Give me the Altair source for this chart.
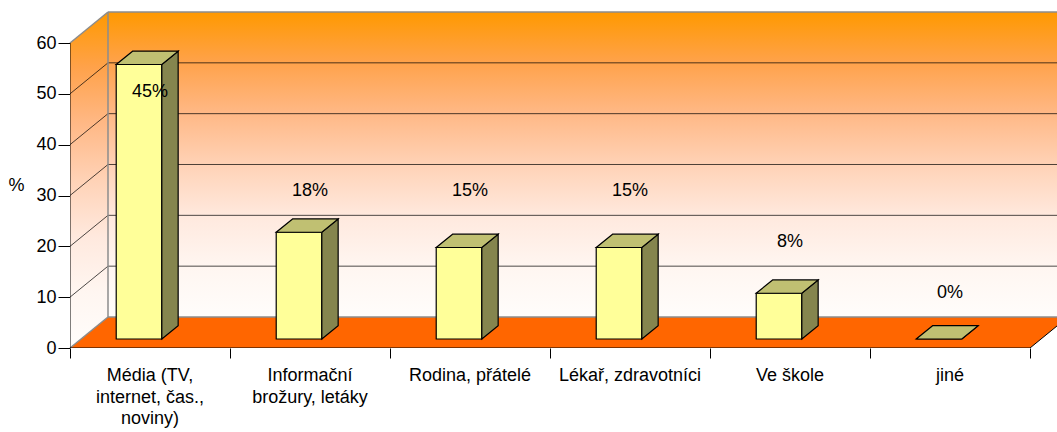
import altair as alt
import pandas as pd

# ---- data -------------------------------------------------------------
categories = [
    "Média (TV,\ninternet, čas.,\nnoviny)",
    "Informační\nbrožury, letáky",
    "Rodina, přátelé",
    "Lékař, zdravotníci",
    "Ve škole",
    "jiné",
]
counts = [54, 21, 18, 18, 9, 0]
y_ticks = [0, 10, 20, 30, 40, 50, 60]
y_title = "%"

# ---- geometry of the pseudo-3D box (category widths / value units) ----
PLOT_W, PLOT_H = 987, 336
CAT_PX = 160                     # pixel width of one category on the front plane
X_END = PLOT_W / CAT_PX          # visible end of the x range
Y_MAX = 60
DEPTH_X = 38 / CAT_PX            # receding offset of the back plane, x
DEPTH_Y = 6.1                    # receding offset of the back plane, y
BAR_L, BAR_R = 0.22, 0.505       # bar footprint inside a category
BAR_FRONT, BAR_BACK = 0.29, 0.72 # bar depth (fraction of the box depth)
GRID_STEP = y_ticks[1] - y_ticks[0]
N = len(categories)

FONT = "Liberation Sans"
FS = 18

xs = alt.Scale(domain=[0, X_END], nice=False, zero=False)
ys = alt.Scale(domain=[0, Y_MAX + DEPTH_Y], nice=False, zero=False)
x_axis = alt.Axis(values=list(range(N + 1)), labels=False, tickSize=10,
                  tickColor="black", tickWidth=1, domain=False, grid=False,
                  title=None)
y_axis = alt.Axis(values=y_ticks, tickSize=12, tickColor="black", tickWidth=1,
                  labelFontSize=FS, labelFont=FONT, labelColor="black",
                  labelPadding=2, domain=False, grid=False,
                  title=y_title, titleAngle=0, titleFont=FONT,
                  titleFontSize=FS, titleFontWeight="normal",
                  titleColor="black", titleX=-54, titleY=173,
                  titleAlign="center", titleBaseline="middle")


def X(f="x"):
    return alt.X(f"{f}:Q", scale=xs, axis=x_axis)


def Y(f="y"):
    return alt.Y(f"{f}:Q", scale=ys, axis=y_axis)


wall_fill = alt.Gradient(
    gradient="linear", x1=0, x2=0, y1=0, y2=1,
    stops=[
        alt.GradientStop(color="#FF9900", offset=0),
        alt.GradientStop(color="#FFA24A", offset=0.164),
        alt.GradientStop(color="#FFB885", offset=0.33),
        alt.GradientStop(color="#FFD2B6", offset=0.5),
        alt.GradientStop(color="#FFE9DE", offset=0.67),
        alt.GradientStop(color="#FFF6F1", offset=0.836),
        alt.GradientStop(color="#FFFDFB", offset=1),
    ],
)

# ---- walls and floor --------------------------------------------------
back_wall = alt.Chart(pd.DataFrame(
    {"x": [DEPTH_X], "x2": [X_END], "y": [DEPTH_Y], "y2": [Y_MAX + DEPTH_Y]}
)).mark_rect(fill=wall_fill).encode(x=X(), x2="x2:Q", y=Y(), y2="y2:Q")

left_wall = alt.Chart(pd.DataFrame(
    {"x": [0, DEPTH_X], "y": [0, DEPTH_Y], "y2": [Y_MAX, Y_MAX + DEPTH_Y]}
)).mark_area(orient="vertical", fill=wall_fill).encode(x=X(), y=Y(), y2="y2:Q")

floor = alt.Chart(pd.DataFrame(
    {"y": [0, DEPTH_Y], "x": [0, DEPTH_X], "x2": [N, N + DEPTH_X]}
)).mark_area(orient="horizontal", fill="#FF6600", clip=True).encode(
    y=Y(), x=X(), x2="x2:Q")

# gridlines on back wall and on the left wall
grid_vals = [v for v in y_ticks if 0 < v < Y_MAX]
grid_rows = []
for v in grid_vals:
    grid_rows.append({"x": DEPTH_X, "x2": X_END, "y": v + DEPTH_Y, "y2": v + DEPTH_Y})
    grid_rows.append({"x": 0, "x2": DEPTH_X, "y": v, "y2": v + DEPTH_Y})
grid = alt.Chart(pd.DataFrame(grid_rows)).mark_rule(
    color="black", strokeWidth=1, opacity=0.7
).encode(x=X(), x2="x2:Q", y=Y(), y2="y2:Q")

# light grey box edges
edge_rows = [
    {"x": 0, "x2": DEPTH_X, "y": Y_MAX, "y2": Y_MAX + DEPTH_Y},
    {"x": 0, "x2": DEPTH_X, "y": 0, "y2": DEPTH_Y},
    {"x": DEPTH_X, "x2": DEPTH_X, "y": DEPTH_Y, "y2": Y_MAX + DEPTH_Y},
    {"x": DEPTH_X, "x2": X_END, "y": Y_MAX + DEPTH_Y, "y2": Y_MAX + DEPTH_Y},
    {"x": DEPTH_X, "x2": X_END, "y": DEPTH_Y, "y2": DEPTH_Y},
]
edges = alt.Chart(pd.DataFrame(edge_rows)).mark_rule(
    color="#8C8C8C", strokeWidth=1.5
).encode(x=X(), x2="x2:Q", y=Y(), y2="y2:Q")

# black axis lines: value axis, floor front and floor right edge
axis_rows = [
    {"x": 0, "x2": 0, "y": 0, "y2": Y_MAX},
    {"x": 0, "x2": N, "y": 0, "y2": 0},
    {"x": N, "x2": N + DEPTH_X, "y": 0, "y2": DEPTH_Y},
]
axis_lines = alt.Chart(pd.DataFrame(axis_rows)).mark_rule(
    color="black", strokeWidth=1, clip=True
).encode(x=X(), x2="x2:Q", y=Y(), y2="y2:Q")

# ---- bars -------------------------------------------------------------
total = sum(counts)
front_rows, side_rows, top_rows, label_rows, cat_rows = [], [], [], [], []
for i, (cat, v) in enumerate(zip(categories, counts)):
    xl, xr = i + BAR_L, i + BAR_R
    f_dx, f_dy = BAR_FRONT * DEPTH_X, BAR_FRONT * DEPTH_Y
    b_dx, b_dy = BAR_BACK * DEPTH_X, BAR_BACK * DEPTH_Y
    front_rows.append({"bar": i, "x": xl + f_dx, "x2": xr + f_dx,
                       "y": f_dy, "y2": v + f_dy})
    side_rows += [
        {"bar": i, "x": xr + f_dx, "y": f_dy, "y2": v + f_dy},
        {"bar": i, "x": xr + b_dx, "y": b_dy, "y2": v + b_dy},
    ]
    top_rows += [
        {"bar": i, "y": v + f_dy, "x": xl + f_dx, "x2": xr + f_dx},
        {"bar": i, "y": v + b_dy, "x": xl + b_dx, "x2": xr + b_dx},
    ]
    pct = int(v / total * 100 + 0.5)
    # share label sits just above the gridline nearest the bar top,
    # or inside the bar when there is no room above it
    ly = round(v / GRID_STEP) * GRID_STEP + GRID_STEP + 0.8
    if ly > Y_MAX:
        ly = v - 3.6
    label_rows.append({"x": i + 0.5, "y": ly, "text": f"{pct}%"})
    cat_rows.append({"x": i + 0.5, "y": 0, "text": cat})

bar_stroke = dict(stroke="black", strokeWidth=1.2, strokeJoin="miter")

front = alt.Chart(pd.DataFrame(front_rows)).mark_rect(
    fill="#FFFF99", **bar_stroke
).encode(x=X(), x2="x2:Q", y=Y(), y2="y2:Q")

side = alt.Chart(pd.DataFrame(side_rows)).mark_area(
    orient="vertical", fill="#85854E", **bar_stroke
).encode(x=X(), y=Y(), y2="y2:Q", detail="bar:N")

top = alt.Chart(pd.DataFrame(top_rows)).mark_area(
    orient="horizontal", fill="#C0C072", **bar_stroke
).encode(y=Y(), x=X(), x2="x2:Q", detail="bar:N")

labels = alt.Chart(pd.DataFrame(label_rows)).mark_text(
    font=FONT, fontSize=FS, color="black", baseline="middle", align="center"
).encode(x=X(), y=Y(), text="text:N")

cat_labels = alt.Chart(pd.DataFrame(cat_rows)).mark_text(
    font=FONT, fontSize=FS, color="black", baseline="top", align="center",
    dy=19, lineBreak="\n", lineHeight=21.5
).encode(x=X(), y=Y(), text="text:N")

chart = alt.layer(
    back_wall, left_wall, floor, grid, edges, axis_lines,
    front, side, top, labels, cat_labels,
).properties(
    width=PLOT_W, height=PLOT_H,
    autosize=alt.AutoSizeParams(type="none"),
    padding={"left": 70, "top": 12, "right": 0, "bottom": 84},
    background="white",
).configure_view(stroke=None)

chart.save("out.html", embed_options={"renderer": "svg", "actions": False})
